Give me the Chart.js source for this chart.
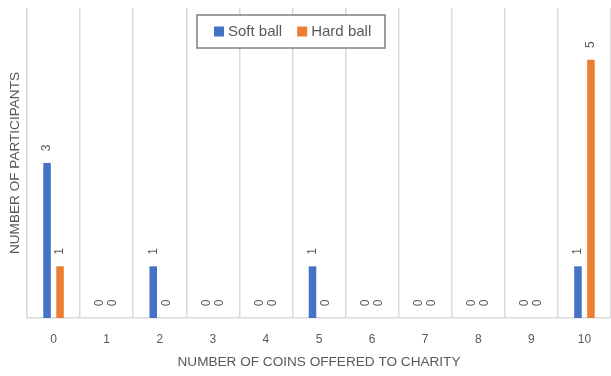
<!DOCTYPE html>
<html>
<head>
<meta charset="utf-8">
<script src="https://cdn.jsdelivr.net/npm/chart.js@4/dist/chart.umd.min.js"></script>
<style>
    html, body { margin: 0; padding: 0; background: #ffffff; }
    #wrap { width: 611px; height: 376px; position: relative; }
</style>
</head>
<body>
<div id="wrap"><canvas id="coinsChart"></canvas></div>
<script>
'use strict';

// ---------------------------------------------------------
// DATA
// ---------------------------------------------------------

const coinCounts = ['0', '1', '2', '3', '4', '5', '6', '7', '8', '9', '10'];
const softBall = [3, 0, 1, 0, 0, 1, 0, 0, 0, 0, 1];
const hardBall = [1, 0, 0, 0, 0, 0, 0, 0, 0, 0, 5];

const seriesNames = ['Soft ball', 'Hard ball'];
const xTitle = 'NUMBER OF COINS OFFERED TO CHARITY';
const yTitle = 'NUMBER OF PARTICIPANTS';


// ---------------------------------------------------------
// STYLE
// ---------------------------------------------------------

const BLUE = '#4472C4';
const ORANGE = '#ED7D31';
const TEXT_GREY = '#595959';
const GRID_GREY = '#d9d9d9';
const FONT = '"Liberation Sans", Arial, sans-serif';


// ---------------------------------------------------------
// PLUGINS
// ---------------------------------------------------------

// value labels, turned on their side, just above each bar
const barValueLabels = {
    id: 'barValueLabels',
    afterDatasetsDraw(chart) {
        const ctx = chart.ctx;
        ctx.save();
        ctx.font = `12px ${FONT}`;
        ctx.fillStyle = TEXT_GREY;
        ctx.textAlign = 'center';
        ctx.textBaseline = 'middle';

        chart.data.datasets.forEach((dataset, i) => {
            const meta = chart.getDatasetMeta(i);
            meta.data.forEach((bar, index) => {
                ctx.save();
                ctx.translate(bar.x, bar.y - 15);
                ctx.rotate(-Math.PI / 2);
                ctx.fillText(String(dataset.data[index]), 0, 0);
                ctx.restore();
            });
        });
        ctx.restore();
    },
};

// boxed legend sitting over the top of the plot
const boxedLegend = {
    id: 'boxedLegend',
    afterDraw(chart, args, opts) {
        const ctx = chart.ctx;
        const box = opts.box;

        ctx.save();
        ctx.fillStyle = '#ffffff';
        ctx.fillRect(box.x, box.y, box.w, box.h);
        ctx.strokeStyle = '#7f7f7f';
        ctx.lineWidth = 1.5;
        ctx.strokeRect(box.x, box.y, box.w, box.h);

        ctx.font = `15px ${FONT}`;
        ctx.textBaseline = 'middle';
        ctx.textAlign = 'left';

        const midY = box.y + box.h / 2;
        let x = box.x + 17;

        chart.data.datasets.forEach((dataset) => {
            ctx.fillStyle = dataset.backgroundColor;
            ctx.fillRect(x, midY - 5, 10, 10);
            x += 14;
            ctx.fillStyle = TEXT_GREY;
            ctx.fillText(dataset.label, x, midY);
            x += ctx.measureText(dataset.label).width + 15;
        });
        ctx.restore();
    },
};


// ---------------------------------------------------------
// CHART
// ---------------------------------------------------------

const makeChart = () => {
    const canvas = document.querySelector('#coinsChart');

    new Chart(canvas, {
        type: 'bar',
        data: {
            labels: coinCounts,
            datasets: [
                {
                    label: seriesNames[0],
                    data: softBall,
                    backgroundColor: BLUE,
                },
                {
                    label: seriesNames[1],
                    data: hardBall,
                    backgroundColor: ORANGE,
                },
            ],
        },
        plugins: [barValueLabels, boxedLegend],
        options: {
            responsive: true,
            maintainAspectRatio: false,
            animation: false,
            categoryPercentage: 0.49,
            barPercentage: 0.58,

            layout: {
                padding: { top: 8, right: 0, left: 0, bottom: 0 },
            },

            plugins: {
                legend: { display: false },
                tooltip: { enabled: false },
                boxedLegend: {
                    box: { x: 197, y: 15, w: 188, h: 33 },
                },
            },

            scales: {
                x: {
                    afterFit: (scale) => { scale.height = 58; },
                    grid: {
                        color: GRID_GREY,
                        lineWidth: 1.5,
                        drawTicks: false,
                        offset: true,
                    },
                    border: {
                        color: GRID_GREY,
                        width: 1.5,
                    },
                    ticks: {
                        color: TEXT_GREY,
                        font: { family: FONT, size: 12 },
                        padding: 14,
                    },
                    title: {
                        display: true,
                        text: xTitle,
                        color: TEXT_GREY,
                        font: { family: FONT, size: 13.6 },
                        padding: { top: 0, bottom: 6 },
                    },
                },
                y: {
                    min: 0,
                    max: 6,
                    afterFit: (scale) => { scale.width = 27; },
                    grid: { display: false },
                    border: { display: false },
                    ticks: { display: false },
                    title: {
                        display: true,
                        text: yTitle,
                        color: TEXT_GREY,
                        font: { family: FONT, size: 13.6 },
                        padding: { top: 7, bottom: 0 },
                    },
                },
            },
        },
    });
};

document.addEventListener('DOMContentLoaded', makeChart);
</script>
</body>
</html>
